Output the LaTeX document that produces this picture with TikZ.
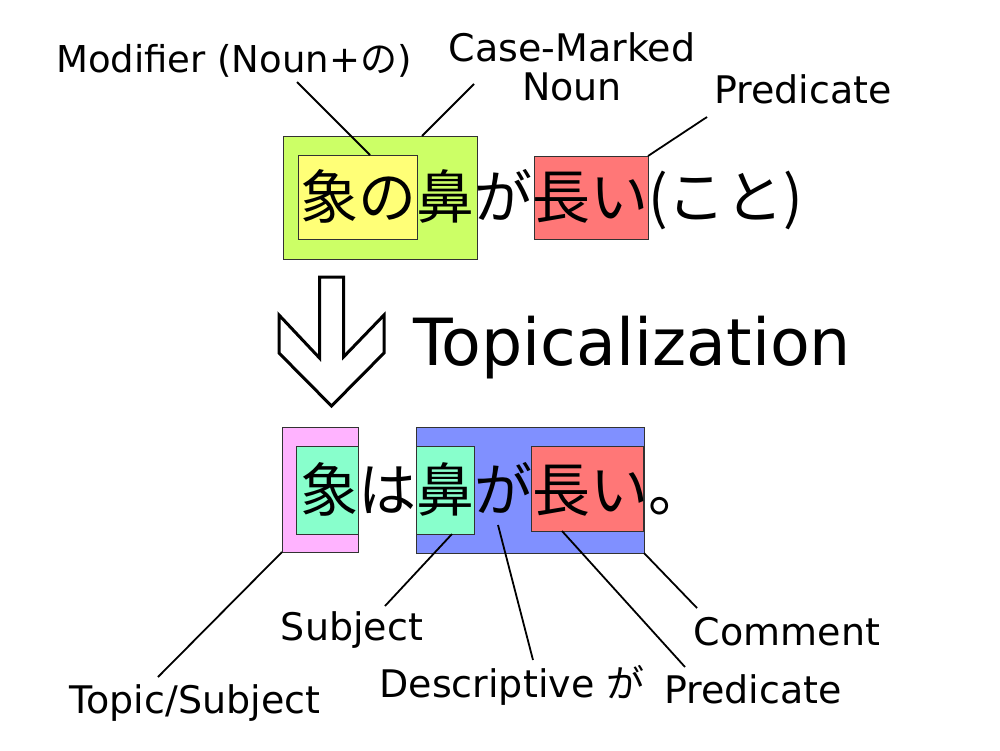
\documentclass[tikz,border=0pt]{standalone}
\usepackage{fontspec}
\setmainfont{DejaVu Sans}
\newfontfamily\jp{Noto Sans CJK JP}
\definecolor{limeg}{RGB}{204,255,102}
\definecolor{yelw}{RGB}{255,255,119}
\definecolor{salm}{RGB}{255,119,119}
\definecolor{pinkk}{RGB}{255,179,255}
\definecolor{mintt}{RGB}{136,255,204}
\definecolor{bluee}{RGB}{128,144,255}
\definecolor{edgec}{RGB}{50,50,50}
\tikzset{
  boxx/.style={draw=edgec, line width=1pt, inner sep=0pt, outer sep=0pt, anchor=north west, rectangle},
  lbl/.style={inner sep=0pt, anchor=base, font=\fontsize{38}{38.3}\selectfont, align=center},
  conn/.style={line width=1.8pt, black},
  bigjp/.style={inner sep=0pt, anchor=base west, font=\jp\fontsize{58}{60}\selectfont},
}
\begin{document}
\begin{tikzpicture}[x=1pt,y=-1pt]
\useasboundingbox (0,0) rectangle (1000,750);
\fill[white] (0,0) rectangle (1000,750);
% top boxes
\node[boxx, fill=limeg, minimum width=194pt, minimum height=123pt] (g1) at (283,136) {};
\node[boxx, fill=yelw, minimum width=119pt, minimum height=84pt] (y1) at (298,155) {};
\node[boxx, fill=salm, minimum width=114pt, minimum height=83pt] (r1) at (534,156) {};
\node[bigjp] (s1) at (300,218) {象の鼻が長い(こと)};
% labels top
\node[lbl, anchor=base west, font=\fontsize{37}{38}\selectfont] (lmod) at (56,72) {Modifier (Noun+{\jp の})};
\node[lbl] (lcase) at (572,100) {Case-Marked\\Noun};
\node[lbl] (lpred1) at (803,103) {Predicate};
\coordinate (cmod) at (297,82);
\coordinate (ccase) at (474,84);
\coordinate (cpred1) at (707,117);
\draw[conn] (cmod) -- ([xshift=12.5pt]y1.north);
\draw[conn] (ccase) -- ([xshift=42pt]g1.north);
\draw[conn] (cpred1) -- (r1.north east);
% arrow
\draw[line width=3pt, line join=miter, fill=white] (319.5,277) -- (343.5,277) -- (343.5,357) -- (384,315) -- (384,353) -- (331.5,406) -- (279,353) -- (279,315) -- (319.5,358) -- cycle;
\node[inner sep=0pt, anchor=base, font=\fontsize{65}{67}\selectfont] (topic) at (632,365) {Topicalization};
% bottom boxes
\node[boxx, fill=pinkk, minimum width=76pt, minimum height=125pt] (p2) at (282,427) {};
\node[boxx, fill=mintt, minimum width=62pt, minimum height=88pt] (m2a) at (296,446) {};
\node[boxx, fill=bluee, minimum width=228pt, minimum height=126pt] (b2) at (416,427) {};
\node[boxx, fill=mintt, minimum width=58pt, minimum height=88pt] (m2b) at (416,446) {};
\node[boxx, fill=salm, minimum width=112pt, minimum height=85pt] (r2) at (531,446) {};
\node[bigjp] (s2) at (300,511) {象は鼻が長い。};
% labels bottom
\node[lbl] (ltopic) at (195,713) {Topic/Subject};
\node[lbl] (lsubj) at (352,640) {Subject};
\node[lbl] (ldesc) at (512,697) {Descriptive {\jp が}};
\node[lbl] (lpred2) at (753,703) {Predicate};
\node[lbl] (lcomm) at (787,645) {Comment};
\coordinate (ctopic) at (158,677);
\coordinate (csubj) at (385,606);
\coordinate (cga) at (498,525);
\coordinate (cdesc) at (533,660);
\coordinate (cpred2) at (685,667);
\coordinate (ccomm) at (697,608);
\draw[conn] (p2.south west) -- (ctopic);
\draw[conn] ([xshift=7pt]m2b.south) -- (csubj);
\draw[conn] (cga) -- (cdesc);
\draw[conn] ([xshift=-25pt]r2.south) -- (cpred2);
\draw[conn] (b2.south east) -- (ccomm);
\end{tikzpicture}
\end{document}
